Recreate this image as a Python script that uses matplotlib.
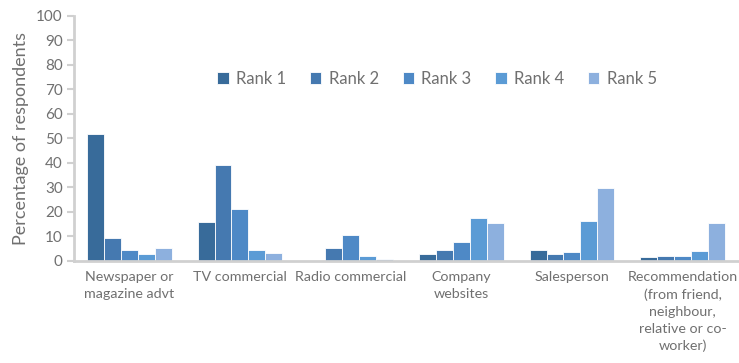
import numpy as np
import matplotlib
matplotlib.use("Agg")
import matplotlib.pyplot as plt

categories = [
    "Newspaper or\nmagazine advt",
    "TV commercial",
    "Radio commercial",
    "Company\nwebsites",
    "Salesperson",
    "Recommendation\n(from friend,\nneighbour,\nrelative or co-\nworker)",
]
series_names = ["Rank 1", "Rank 2", "Rank 3", "Rank 4", "Rank 5"]
rank1 = [52.0, 15.8, 0.0, 2.7, 4.5, 1.5]
rank2 = [9.5, 39.0, 5.2, 4.5, 2.7, 2.0]
rank3 = [4.5, 21.3, 10.5, 7.9, 3.7, 2.2]
rank4 = [2.8, 4.5, 2.0, 17.4, 16.3, 4.2]
rank5 = [5.2, 3.1, 0.8, 15.6, 29.9, 15.6]

colors = ["#386B9A", "#4579B0", "#4E89C6", "#5B9BD5", "#8DB0DE"]
text_color = "#707070"
axis_color = "#D0D0D0"

plt.rcParams["font.family"] = ["Lato", "DejaVu Sans"]

fig = plt.figure(figsize=(7.39, 3.63), dpi=100)
ax = fig.add_axes([0.100, 0.281, 0.8986, 0.675])

x = np.arange(len(categories))
bar_w = 0.153
all_series = [rank1, rank2, rank3, rank4, rank5]
for i, (vals, name) in enumerate(zip(all_series, series_names)):
    offset = (i - 2) * bar_w
    ax.bar(x + offset, vals, width=bar_w, color=colors[i], label=name,
           edgecolor="white", linewidth=0.6)

ax.set_xlim(-0.5, len(categories) - 0.5)
ax.set_ylim(0, 100)
ax.set_yticks(range(0, 101, 10))
ax.set_xticks(x)
ax.set_xticklabels(categories, fontsize=10.3, color=text_color, linespacing=1.5)
ax.tick_params(axis="x", length=0, pad=7)
ax.tick_params(axis="y", length=5, width=1.5, color=axis_color,
               labelsize=11, labelcolor=text_color, pad=3)

for side in ["top", "right"]:
    ax.spines[side].set_visible(False)
for side in ["left", "bottom"]:
    ax.spines[side].set_color(axis_color)
    ax.spines[side].set_linewidth(2)

ax.set_ylabel("Percentage of respondents", fontsize=13, color=text_color, labelpad=5)

ax.legend(loc="center", bbox_to_anchor=(0.547, 0.743), ncol=5, frameon=False,
          fontsize=12, labelcolor=text_color, handlelength=0.68, handleheight=0.68,
          handletextpad=0.45, columnspacing=1.42)

fig.savefig("out.png", dpi=100)
